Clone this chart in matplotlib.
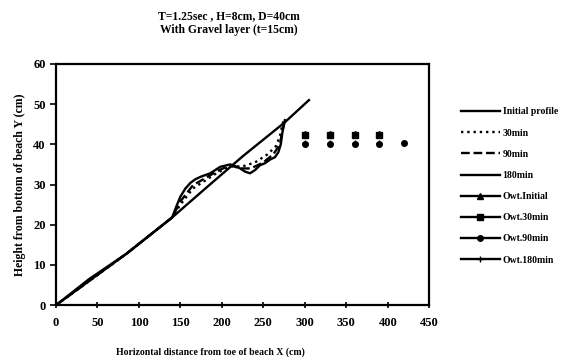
import matplotlib
matplotlib.use('Agg')
import matplotlib.pyplot as plt
from matplotlib.lines import Line2D

# plot parameter things
fontsize = 7.5
lw = 1.7
matplotlib.rcParams.update({'font.size': fontsize, 'font.family': 'Liberation Serif',
                            'font.weight': 'bold'})

# profiles (x in cm, y in cm)
x_init = [0, 40, 85, 140, 180, 225, 276, 305]
y_init = [0, 6.5, 12.8, 21.8, 29, 37, 45.5, 51]

x_30 = [0, 85, 140, 150, 165, 180, 195, 210, 225, 240, 255, 265, 270, 273, 275]
y_30 = [0, 12.8, 21.8, 25, 29, 31, 33, 34.5, 34.5, 35.5, 37.5, 39.5, 42, 45, 46]

x_90 = [0, 85, 140, 150, 165, 180, 195, 210, 222, 235, 250, 262, 270, 273, 276]
y_90 = [0, 12.8, 21.8, 25.8, 29.8, 31.6, 33.4, 34.8, 34, 34, 35.5, 37.5, 40, 43.5, 46]

x_180 = [0, 85, 140, 145, 150, 156, 162, 168, 174, 186, 198, 210, 216, 222, 228,
         234, 240, 246, 252, 258, 264, 268, 271, 273, 276]
y_180 = [0, 12.8, 21.8, 24.5, 27, 29, 30.4, 31.3, 31.9, 32.8, 34.4, 35, 34.6, 34,
         33.2, 32.8, 33.6, 34.8, 35.3, 36.2, 36.8, 38, 40, 43, 46]

# overtopping points
x_owt = [300, 330, 360, 390]
y_owt_init = [42.6, 42.6, 42.6, 42.6]
y_owt_30 = [42.2, 42.2, 42.2, 42.2]
x_owt_90 = [300, 330, 360, 390, 420]
y_owt_90 = [40.2, 40.2, 40.2, 40.2, 40.3]
y_owt_180 = [40.4, 40.4, 40.4, 40.4]

labels = ['Initial profile', '30min', '90min', '180min',
          'Owt.Initial', 'Owt.30min', 'Owt.90min', 'Owt.180min']

fig = plt.figure(figsize=(5.76, 3.59), dpi=100)
ax = fig.add_axes([0.0972, 0.150, 0.648, 0.672])

ax.plot(x_init, y_init, '-', color='k', linewidth=lw)
ax.plot(x_30, y_30, ':', color='k', linewidth=lw)
ax.plot(x_90, y_90, '--', color='k', linewidth=lw)
ax.plot(x_180, y_180, '-', color='k', linewidth=lw)

ax.plot(x_owt, y_owt_init, '^', color='k', markersize=4, linestyle='none')
ax.plot(x_owt, y_owt_30, 's', color='k', markersize=4, linestyle='none')
ax.plot(x_owt_90, y_owt_90, 'o', color='k', markersize=4, linestyle='none')
ax.plot(x_owt, y_owt_180, '+', color='k', markersize=4, linestyle='none')

ax.set_xlim(0, 450)
ax.set_ylim(0, 60)
ax.set_xticks(range(0, 451, 50))
ax.set_yticks(range(0, 61, 10))
ax.xaxis.set_tick_params(direction='inout', length=5, width=1.2, labelsize=9, pad=6)
ax.yaxis.set_tick_params(direction='out', length=4, width=1.2, labelsize=9)
for s in ax.spines.values():
    s.set_linewidth(1.6)

# legend in excel style
handles = [
    Line2D([], [], color='k', linestyle='-', linewidth=lw),
    Line2D([], [], color='k', linestyle=':', linewidth=lw),
    Line2D([], [], color='k', linestyle='--', linewidth=lw),
    Line2D([], [], color='k', linestyle='-', linewidth=lw),
    Line2D([], [], color='k', linestyle='-', linewidth=lw, marker='^', markersize=4),
    Line2D([], [], color='k', linestyle='-', linewidth=lw, marker='s', markersize=4),
    Line2D([], [], color='k', linestyle='-', linewidth=lw, marker='o', markersize=4),
    Line2D([], [], color='k', linestyle='-', linewidth=lw, marker='+', markersize=4),
]
fig.legend(handles, labels, loc='upper left', bbox_to_anchor=(0.785, 0.725),
           frameon=False, handlelength=4.0, handletextpad=0.3, labelspacing=1.25,
           fontsize=7)

fig.text(0.398, 0.955, 'T=1.25sec , H=8cm, D=40cm', ha='center', va='center', fontsize=8.4)
fig.text(0.398, 0.916, 'With Gravel layer (t=15cm)', ha='center', va='center', fontsize=8.4)
fig.text(0.365, 0.02, 'Horizontal distance from toe of beach X (cm)', ha='center',
         va='center', fontsize=7)
fig.text(0.035, 0.485, 'Height from bottom of beach Y (cm)', ha='center', va='center',
         rotation=90, fontsize=8.5)

fig.savefig('out.png', dpi=100)
